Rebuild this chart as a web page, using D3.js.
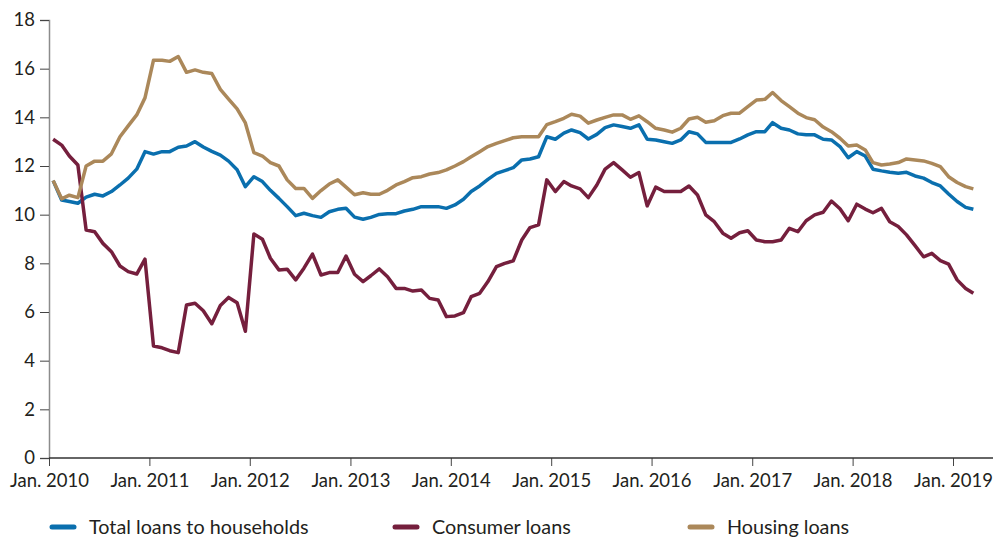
<!DOCTYPE html>
<html>
<head>
<meta charset="utf-8">
<script src="https://cdn.jsdelivr.net/npm/d3@7"></script>
<style>
    body { margin: 0; background: #fff; }
    svg text { font-family: "Lato", "Liberation Sans", sans-serif; fill: #231f20; }
</style>
</head>
<body>
<div id="chart"></div>
<script>
// monthly, Jan. 2010 .. Mar. 2019
const months = d3.timeMonth.range(new Date(2010, 0, 1), new Date(2019, 3, 1));

const totalLoans = [
    11.4, 10.6, 10.54, 10.47, 10.72, 10.84, 10.77, 10.95, 11.22, 11.5, 11.87, 12.59,
    12.49, 12.59, 12.59, 12.77, 12.82, 13.0, 12.78, 12.6, 12.45, 12.2, 11.85, 11.15,
    11.56, 11.36, 11.0, 10.67, 10.33, 9.96, 10.06, 9.96, 9.89, 10.12, 10.22, 10.26,
    9.9, 9.81, 9.89, 10.01, 10.04, 10.04, 10.15, 10.22, 10.33, 10.33, 10.33, 10.26,
    10.4, 10.63, 10.95, 11.18, 11.45, 11.7, 11.81, 11.93, 12.25, 12.29, 12.38, 13.2,
    13.1, 13.35, 13.48, 13.37, 13.11, 13.3, 13.58, 13.69, 13.62, 13.55, 13.69, 13.1,
    13.07, 13.0, 12.93, 13.07, 13.41, 13.32, 12.97, 12.97, 12.97, 12.97, 13.11, 13.28,
    13.41, 13.41, 13.78, 13.55, 13.48, 13.32, 13.28, 13.28, 13.1, 13.07, 12.8, 12.34,
    12.59, 12.41, 11.87, 11.8, 11.74, 11.7, 11.74, 11.59, 11.5, 11.32, 11.18, 10.85,
    10.54, 10.3, 10.22
];

const consumerLoans = [
    13.1, 12.86, 12.41, 12.04, 9.37, 9.3, 8.82, 8.48, 7.89, 7.66, 7.56, 8.17,
    4.6, 4.53, 4.41, 4.33, 6.29, 6.36, 6.05, 5.52, 6.27, 6.6, 6.38, 5.21,
    9.21, 8.99, 8.21, 7.73, 7.76, 7.32, 7.8, 8.38, 7.52, 7.62, 7.62, 8.3,
    7.55, 7.25, 7.49, 7.77, 7.45, 6.97, 6.97, 6.86, 6.9, 6.56, 6.49, 5.81,
    5.84, 5.97, 6.63, 6.77, 7.25, 7.86, 8.0, 8.1, 8.96, 9.47, 9.58, 11.43,
    10.95, 11.36, 11.18, 11.06, 10.7, 11.22, 11.87, 12.14, 11.84, 11.54, 11.73, 10.36,
    11.13, 10.95, 10.95, 10.95, 11.18, 10.81, 9.99, 9.71, 9.24, 9.03, 9.26, 9.34,
    8.96, 8.89, 8.89, 8.96, 9.44, 9.3, 9.75, 9.99, 10.1, 10.56, 10.24, 9.75,
    10.43, 10.23, 10.08, 10.26, 9.71, 9.51, 9.17, 8.73, 8.27, 8.41, 8.11, 7.97,
    7.32, 6.97, 6.77
];

const housingLoans = [
    11.4, 10.65, 10.8, 10.7, 12.0, 12.2, 12.2, 12.5, 13.2, 13.65, 14.1, 14.8,
    16.35, 16.35, 16.3, 16.5, 15.85, 15.95, 15.85, 15.8, 15.15, 14.75, 14.35, 13.77,
    12.55, 12.41, 12.14, 12.0, 11.43, 11.08, 11.08, 10.67, 10.99, 11.26, 11.43, 11.13,
    10.82, 10.9, 10.84, 10.84, 11.0, 11.22, 11.36, 11.52, 11.56, 11.67, 11.73, 11.84,
    12.0, 12.18, 12.38, 12.59, 12.8, 12.93, 13.04, 13.16, 13.2, 13.2, 13.2, 13.7,
    13.82, 13.96, 14.13, 14.05, 13.76, 13.89, 14.0, 14.1, 14.1, 13.92, 14.06, 13.82,
    13.55, 13.48, 13.39, 13.55, 13.93, 14.0, 13.8, 13.86, 14.07, 14.17, 14.17, 14.44,
    14.71, 14.74, 15.02, 14.69, 14.44, 14.17, 13.99, 13.9, 13.6, 13.41, 13.14, 12.82,
    12.86, 12.66, 12.14, 12.04, 12.08, 12.14, 12.29, 12.25, 12.21, 12.11, 11.97, 11.56,
    11.32, 11.15, 11.06
];

const seriesNames = ["Total loans to households", "Consumer loans", "Housing loans"];
const seriesColors = ["#0a6fae", "#751f3d", "#ab885a"];
const yTicks = [0, 2, 4, 6, 8, 10, 12, 14, 16, 18];
const xTickYears = d3.range(2010, 2020);

const width = 1006;
const height = 538;

const svg = d3.select("#chart").append("svg")
    .attr("width", width)
    .attr("height", height);

const x = d3.scaleTime()
    .domain([new Date(2010, 0, 1), new Date(2019, 0, 1)])
    .range([49, 953]);

const y = d3.scaleLinear()
    .domain([0, 18])
    .range([458, 20]);

// y axis
const yAxis = svg.append("g")
    .attr("transform", "translate(49,0)")
    .call(d3.axisLeft(y).tickValues(yTicks).tickSize(9).tickPadding(5).tickFormat(d3.format("d")));
yAxis.select(".domain").attr("stroke", "#8c8c8c").attr("stroke-width", 1.5);
yAxis.selectAll(".tick line").attr("stroke", "#444");
yAxis.selectAll("text").attr("font-size", 18.5);

// x axis
const xAxis = svg.append("g")
    .attr("transform", "translate(0,458)")
    .call(d3.axisBottom(x)
        .tickValues(xTickYears.map(yr => new Date(yr, 0, 1)))
        .tickSize(8).tickPadding(8)
        .tickFormat(d => "Jan. " + d.getFullYear()));
xAxis.select(".domain").remove();
xAxis.append("line")
    .attr("x1", 49).attr("x2", 993)
    .attr("stroke", "#333").attr("stroke-width", 1.5);
xAxis.selectAll(".tick line").attr("stroke", "#444");
xAxis.selectAll("text").attr("font-size", 18.5);

// lines, points placed mid-month
const line = d3.line()
    .x((d, i) => x(d3.timeDay.offset(months[i], 15)))
    .y(d => y(d));

[totalLoans, consumerLoans, housingLoans].forEach((values, k) => {
    svg.append("path")
        .datum(values)
        .attr("fill", "none")
        .attr("stroke", seriesColors[k])
        .attr("stroke-width", 3.5)
        .attr("stroke-linejoin", "round")
        .attr("d", line);
});

// legend
const legendX = [52, 395, 690];
const legend = svg.append("g")
    .selectAll("g")
    .data(seriesNames)
    .enter().append("g")
    .attr("transform", (d, i) => `translate(${legendX[i]},527)`);

legend.append("line")
    .attr("x1", 0).attr("x2", 22)
    .attr("stroke", (d, i) => seriesColors[i])
    .attr("stroke-width", 5)
    .attr("stroke-linecap", "round");

legend.append("text")
    .attr("x", 37)
    .attr("dy", "0.35em")
    .attr("font-size", 19.8)
    .text(d => d);
</script>
</body>
</html>
